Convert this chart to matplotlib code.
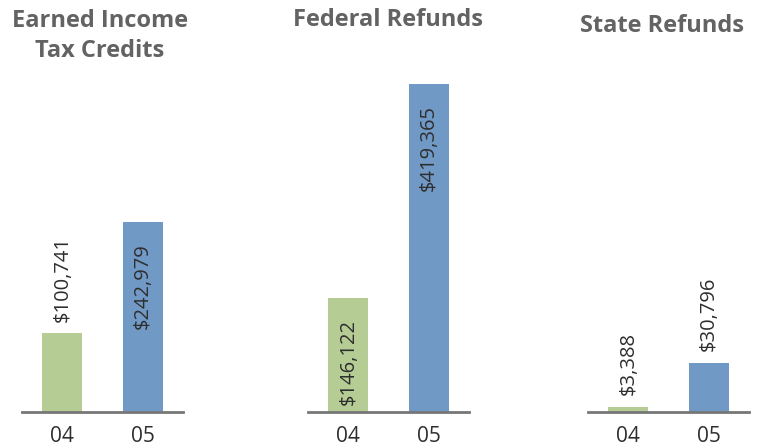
import matplotlib.pyplot as plt

# data
years = ["04", "05"]
titles = ["Earned Income\nTax Credits", "Federal Refunds", "State Refunds"]
eitc = [100741, 242979]
federal = [146122, 419365]
state = [3388, 30796]
series = [eitc, federal, state]
# label drawn inside the bar (True) or above it (False)
inside = [[False, True], [True, True], [False, False]]

GREEN = "#b5cc95"
BLUE = "#7199c6"
TITLE_C = "#636363"
TEXT_C = "#2e2e2e"
BASE_C = "#777777"

W, H = 759, 447
fig = plt.figure(figsize=(W / 100, H / 100), dpi=100)
plt.rcParams['font.family'] = ['Open Sans', 'DejaVu Sans']

lefts = [22, 308, 588]
ymax = [420000, 420000, 205000]
base_y = 412
top_y = 84

for i, vals in enumerate(series):
    ax = fig.add_axes([lefts[i] / W, (H - base_y) / H, 161 / W, (base_y - top_y) / H])
    x = range(len(vals))
    ax.bar(x, vals, width=0.5, color=[GREEN, BLUE], zorder=2)
    ax.set_xlim(-0.5, 1.5)
    ax.set_ylim(0, ymax[i])
    for s in ['top', 'right', 'left']:
        ax.spines[s].set_visible(False)
    ax.spines['bottom'].set_color(BASE_C)
    ax.spines['bottom'].set_linewidth(2)
    ax.set_yticks([])
    ax.set_xticks(list(x))
    ax.set_xticklabels(years, fontsize=15, color=TEXT_C)
    ax.tick_params(axis='x', length=0, pad=10)
    for j, v in enumerate(vals):
        lab = "${:,}".format(v)
        if inside[i][j]:
            ax.annotate(lab, (j, v), xytext=(0, -15), textcoords='offset points',
                        rotation=90, ha='center', va='top', fontsize=14.5, color=TEXT_C)
        else:
            ax.annotate(lab, (j, v), xytext=(0, 8.5), textcoords='offset points',
                        rotation=90, ha='center', va='bottom', fontsize=14.5, color=TEXT_C)

# panel titles
fig.text(100 / W, 1 - 36 / H, titles[0], ha='center', va='center', fontsize=17,
         fontweight='bold', color=TITLE_C, linespacing=1.3)
fig.text(388 / W, 1 - 20 / H, titles[1], ha='center', va='center', fontsize=17,
         fontweight='bold', color=TITLE_C)
fig.text(662 / W, 1 - 26 / H, titles[2], ha='center', va='center', fontsize=17,
         fontweight='bold', color=TITLE_C)

fig.savefig("out.png", dpi=100)
